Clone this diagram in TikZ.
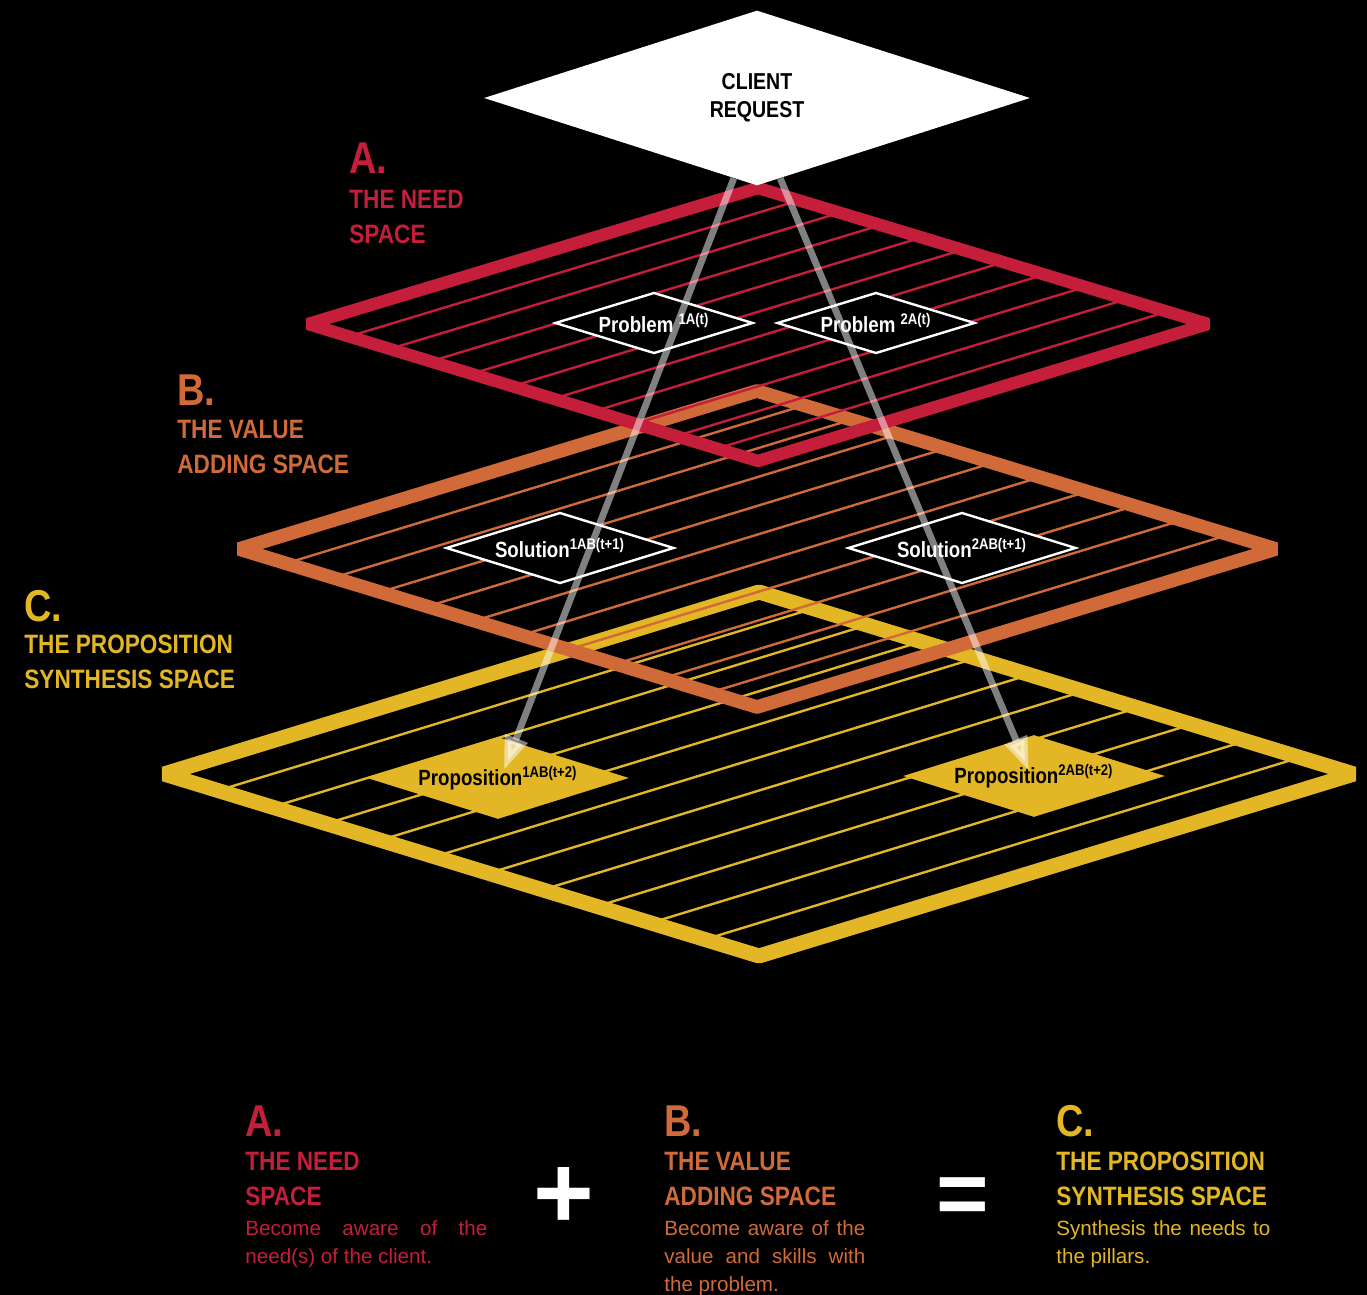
\documentclass[tikz,border=0pt]{standalone}
\usepackage{fontspec}
\setmainfont{Liberation Sans}
\newfontfamily\condfont{Liberation Sans}[FakeStretch=0.85]
\usetikzlibrary{shapes.geometric,positioning,calc,arrows.meta}
\definecolor{needred}{RGB}{196,30,58}
\definecolor{valueorange}{RGB}{209,106,57}
\definecolor{synthyellow}{RGB}{226,182,36}

\begin{document}
\begin{tikzpicture}
    [
      x=0.5pt, y=-0.5pt,
      plane/.style={line width=#1, line join=bevel},
      hatch/.style={line width=1.2pt},
      request/.style={diamond, fill=white, aspect=3, inner sep=0pt, minimum width=273pt, minimum height=87.5pt, align=center, font=\condfont\bfseries\fontsize{11.5}{14}\selectfont},
      problem/.style={diamond, draw=white, fill=black, line width=1.2pt, aspect=3.2, inner sep=0pt, minimum width=99pt, minimum height=30.5pt, text=white, font=\condfont\bfseries\fontsize{11}{13}\selectfont},
      solution/.style={problem, minimum width=114pt, minimum height=35.5pt},
      proposition/.style={diamond, fill=synthyellow, aspect=3.2, inner sep=0pt, minimum width=131pt, minimum height=41pt, text=black, font=\condfont\bfseries\fontsize{11}{13}\selectfont},
      flow/.style={draw=white, opacity=0.5, line width=3.4pt, -{Triangle[length=17pt, width=11.5pt]}},
      letter/.style={anchor=base west, inner sep=0pt, font=\condfont\bfseries\fontsize{22.3}{24}\selectfont},
      title/.style={anchor=north west, inner sep=0pt, align=left, font=\condfont\bfseries\fontsize{13.3}{17.5}\selectfont},
      body/.style={anchor=north west, inner sep=0pt, text width=#1, align=justify, font=\fontsize{10.3}{14}\selectfont}
    ]
    \fill [black] (0,0) rectangle (1367,1295);
    \useasboundingbox (0,0) rectangle (1367,1295);

    % C: proposition synthesis space
    \coordinate (C-l) at (164,774);
    \coordinate (C-t) at (759,592);
    \coordinate (C-r) at (1354,774);
    \coordinate (C-b) at (759,956);
    \foreach \i in {1,...,10}
      \draw [hatch, synthyellow] ($(C-l)!\i/11!(C-b)$) -- ($(C-t)!\i/11!(C-r)$);
    \draw [plane=7.5pt, synthyellow] (C-l) -- (C-t) -- (C-r) -- (C-b) -- cycle;
    \node (prop1) [proposition] at (498,778) {Proposition\textsuperscript{1AB(t+2)}};
    \node (prop2) [proposition] at (1034,776) {Proposition\textsuperscript{2AB(t+2)}};

    % B: value adding space
    \coordinate (B-l) at (239,549);
    \coordinate (B-t) at (757,391);
    \coordinate (B-r) at (1276,549);
    \coordinate (B-b) at (757,707);
    \foreach \i in {1,...,10}
      \draw [hatch, valueorange] ($(B-l)!\i/11!(B-b)$) -- ($(B-t)!\i/11!(B-r)$);
    \draw [plane=6.8pt, valueorange] (B-l) -- (B-t) -- (B-r) -- (B-b) -- cycle;
    \node (sol1) [solution] at (560,548) {Solution\textsuperscript{1AB(t+1)}};
    \node (sol2) [solution] at (962,548) {Solution\textsuperscript{2AB(t+1)}};

    % A: need space
    \coordinate (A-l) at (308,324);
    \coordinate (A-t) at (758,188);
    \coordinate (A-r) at (1208,324);
    \coordinate (A-b) at (758,461);
    \foreach \i in {1,...,10}
      \draw [hatch, needred] ($(A-l)!\i/11!(A-b)$) -- ($(A-t)!\i/11!(A-r)$);
    \draw [plane=6.2pt, needred] (A-l) -- (A-t) -- (A-r) -- (A-b) -- cycle;
    \node (prob1) [problem] at (654,323) {Problem \textsuperscript{1A(t)}};
    \node (prob2) [problem] at (876,323) {Problem \textsuperscript{2A(t)}};

    \node (client) [request] at (757,98) {CLIENT\\REQUEST};

    \draw [flow] ($(client.south)!0.085!(client.west)$) -- ($(prop1.center)+(6,-8)$);
    \draw [flow] ($(client.south)!0.085!(client.east)$) -- ($(prop2.center)+(-5,-5)$);

    % labels beside the planes
    \node (needletter) [letter, needred] at (349,174) {A.};
    \node (needtitle) [title, needred] at (349,190) {THE NEED\\SPACE};
    \node (valueletter) [letter, valueorange] at (177,405) {B.};
    \node (valuetitle) [title, valueorange] at (177,420) {THE VALUE\\ADDING SPACE};
    \node (synthletter) [letter, synthyellow] at (24,621) {C.};
    \node (synthtitle) [title, synthyellow] at (24,635) {THE PROPOSITION\\SYNTHESIS SPACE};

    % legend
    \node (needkey) [letter, needred] at (245,1136) {A.};
    \node (needhead) [title, needred] at (245,1152) {THE NEED\\SPACE};
    \node (needtext) [body=121pt, needred] at (245,1220) {Become aware of the\linebreak need(s) of the client.};
    \node (plus) [white, font=\bfseries\fontsize{52}{52}\selectfont] at (564,1198) {+};
    \node (valuekey) [letter, valueorange] at (664,1136) {B.};
    \node (valuehead) [title, valueorange] at (664,1152) {THE VALUE\\ADDING SPACE};
    \node (valuetext) [body=100.5pt, valueorange] at (664,1220) {Become aware of the\linebreak value and skills with\linebreak the problem.};
    \node (equals) [white, font=\bfseries\fontsize{45}{45}\selectfont] at (963,1201) {=};
    \node (synthkey) [letter, synthyellow] at (1056,1136) {C.};
    \node (synthhead) [title, synthyellow] at (1056,1152) {THE PROPOSITION\\SYNTHESIS SPACE};
    \node (synthtext) [body=107pt, synthyellow] at (1056,1220) {Synthesis the needs to\linebreak the pillars.};
\end{tikzpicture}
\end{document}
